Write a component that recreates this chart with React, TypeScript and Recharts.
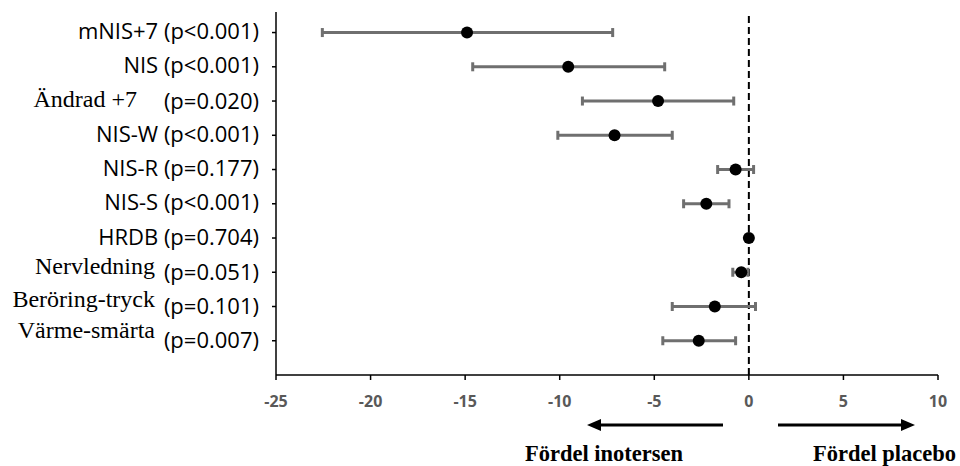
import { ErrorBar, ReferenceLine, Scatter, ScatterChart, XAxis, YAxis } from 'recharts';

// rows listed top to bottom
const outcomes = ['mNIS+7', 'NIS', 'Ändrad +7', 'NIS-W', 'NIS-R', 'NIS-S', 'HRDB', 'Nervledning', 'Beröring-tryck', 'Värme-smärta'];
const pValues = ['(p<0.001)', '(p<0.001)', '(p=0.020)', '(p<0.001)', '(p=0.177)', '(p<0.001)', '(p=0.704)', '(p=0.051)', '(p=0.101)', '(p=0.007)'];
const estimates = [-14.9, -9.55, -4.8, -7.1, -0.7, -2.25, 0, -0.4, -1.8, -2.65];
const lowerCI = [-22.55, -14.6, -8.8, -10.1, -1.65, -3.45, -0.05, -0.85, -4.05, -4.55];
const upperCI = [-7.2, -4.45, -0.8, -4.05, 0.25, -1.05, 0.05, -0.05, 0.35, -0.7];
const xTicks = [-25, -20, -15, -10, -5, 0, 5, 10];

// these names were typeset in a serif font in the original, with their own baseline
const serifLabels: Record<string, { right: number; dy: number }> = {
  'Ändrad +7': { right: 122, dy: 6 },
  'Nervledning': { right: 104, dy: 2 },
  'Beröring-tryck': { right: 104, dy: 0.5 },
  'Värme-smärta': { right: 104, dy: -3 },
};

const SANS = '"Open Sans", sans-serif';
const SERIF = '"Liberation Serif", "Times New Roman", serif';

const rows = outcomes.map((name, i) => ({
  name,
  x: estimates[i],
  y: outcomes.length - i,
  err: [estimates[i] - lowerCI[i], upperCI[i] - estimates[i]],
}));

function OutcomeTick(props: any) {
  const { x, y, payload } = props;
  const idx = outcomes.length - payload.value;
  const name = outcomes[idx];
  if (name === undefined) return null;
  const serif = serifLabels[name];
  if (!serif) {
    return (
      <text x={x} y={y + 6.5} textAnchor="end" fontFamily={SANS} fontSize={22} fill="#000">
        {`${name} ${pValues[idx]}`}
      </text>
    );
  }
  return (
    <g>
      <text x={x - serif.right} y={y + serif.dy} textAnchor="end" fontFamily={SERIF} fontSize={24} fill="#000">
        {name}
      </text>
      <text x={x} y={y + 7.5} textAnchor="end" fontFamily={SANS} fontSize={22} fill="#000">
        {pValues[idx]}
      </text>
    </g>
  );
}

const Dot = (props: any) => <circle cx={props.cx} cy={props.cy} r={6} fill="#000" />;

export default function App() {
  return (
    <div style={{ position: 'fixed', left: 0, top: 0, width: 960, height: 466, background: '#fff' }}>
      <ScatterChart width={960} height={466} margin={{ top: 12, right: 22, bottom: 0, left: 0 }}>
        <XAxis
          type="number"
          dataKey="x"
          domain={[-25, 10]}
          ticks={xTicks}
          height={91}
          axisLine={{ stroke: '#000', strokeWidth: 1.5 }}
          tickLine={{ stroke: '#000', strokeWidth: 1.5 }}
          tickSize={5}
          tickMargin={16}
          tick={{ fill: '#595959', fontSize: 16, fontWeight: 700, fontFamily: SANS }}
        />
        <YAxis
          type="number"
          dataKey="y"
          domain={[0, 10.6]}
          ticks={[1, 2, 3, 4, 5, 6, 7, 8, 9, 10]}
          width={276}
          axisLine={{ stroke: '#000', strokeWidth: 1.5 }}
          tickLine={{ stroke: '#000', strokeWidth: 1.5 }}
          tickSize={4}
          tickMargin={13}
          tick={<OutcomeTick />}
        />
        <ReferenceLine x={0} stroke="#000" strokeWidth={2} strokeDasharray="7 4" />
        <Scatter data={rows} shape={<Dot />} isAnimationActive={false}>
          <ErrorBar dataKey="err" direction="x" width={4.5} stroke="#6f6f6f" strokeWidth={3} />
        </Scatter>
      </ScatterChart>
      <svg width={960} height={466} style={{ position: 'absolute', left: 0, top: 0, pointerEvents: 'none' }}>
        <line x1={723} y1={425} x2={598} y2={425} stroke="#000" strokeWidth={3} />
        <polygon points="587,425 601,419 601,431" fill="#000" />
        <line x1={778} y1={425} x2={904} y2={425} stroke="#000" strokeWidth={3} />
        <polygon points="915,425 901,419 901,431" fill="#000" />
        <text x={525} y={461} fontFamily={SERIF} fontWeight={700} fontSize={22.5} fill="#000">
          Fördel inotersen
        </text>
        <text x={813} y={461} fontFamily={SERIF} fontWeight={700} fontSize={22.5} fill="#000">
          Fördel placebo
        </text>
      </svg>
    </div>
  );
}
